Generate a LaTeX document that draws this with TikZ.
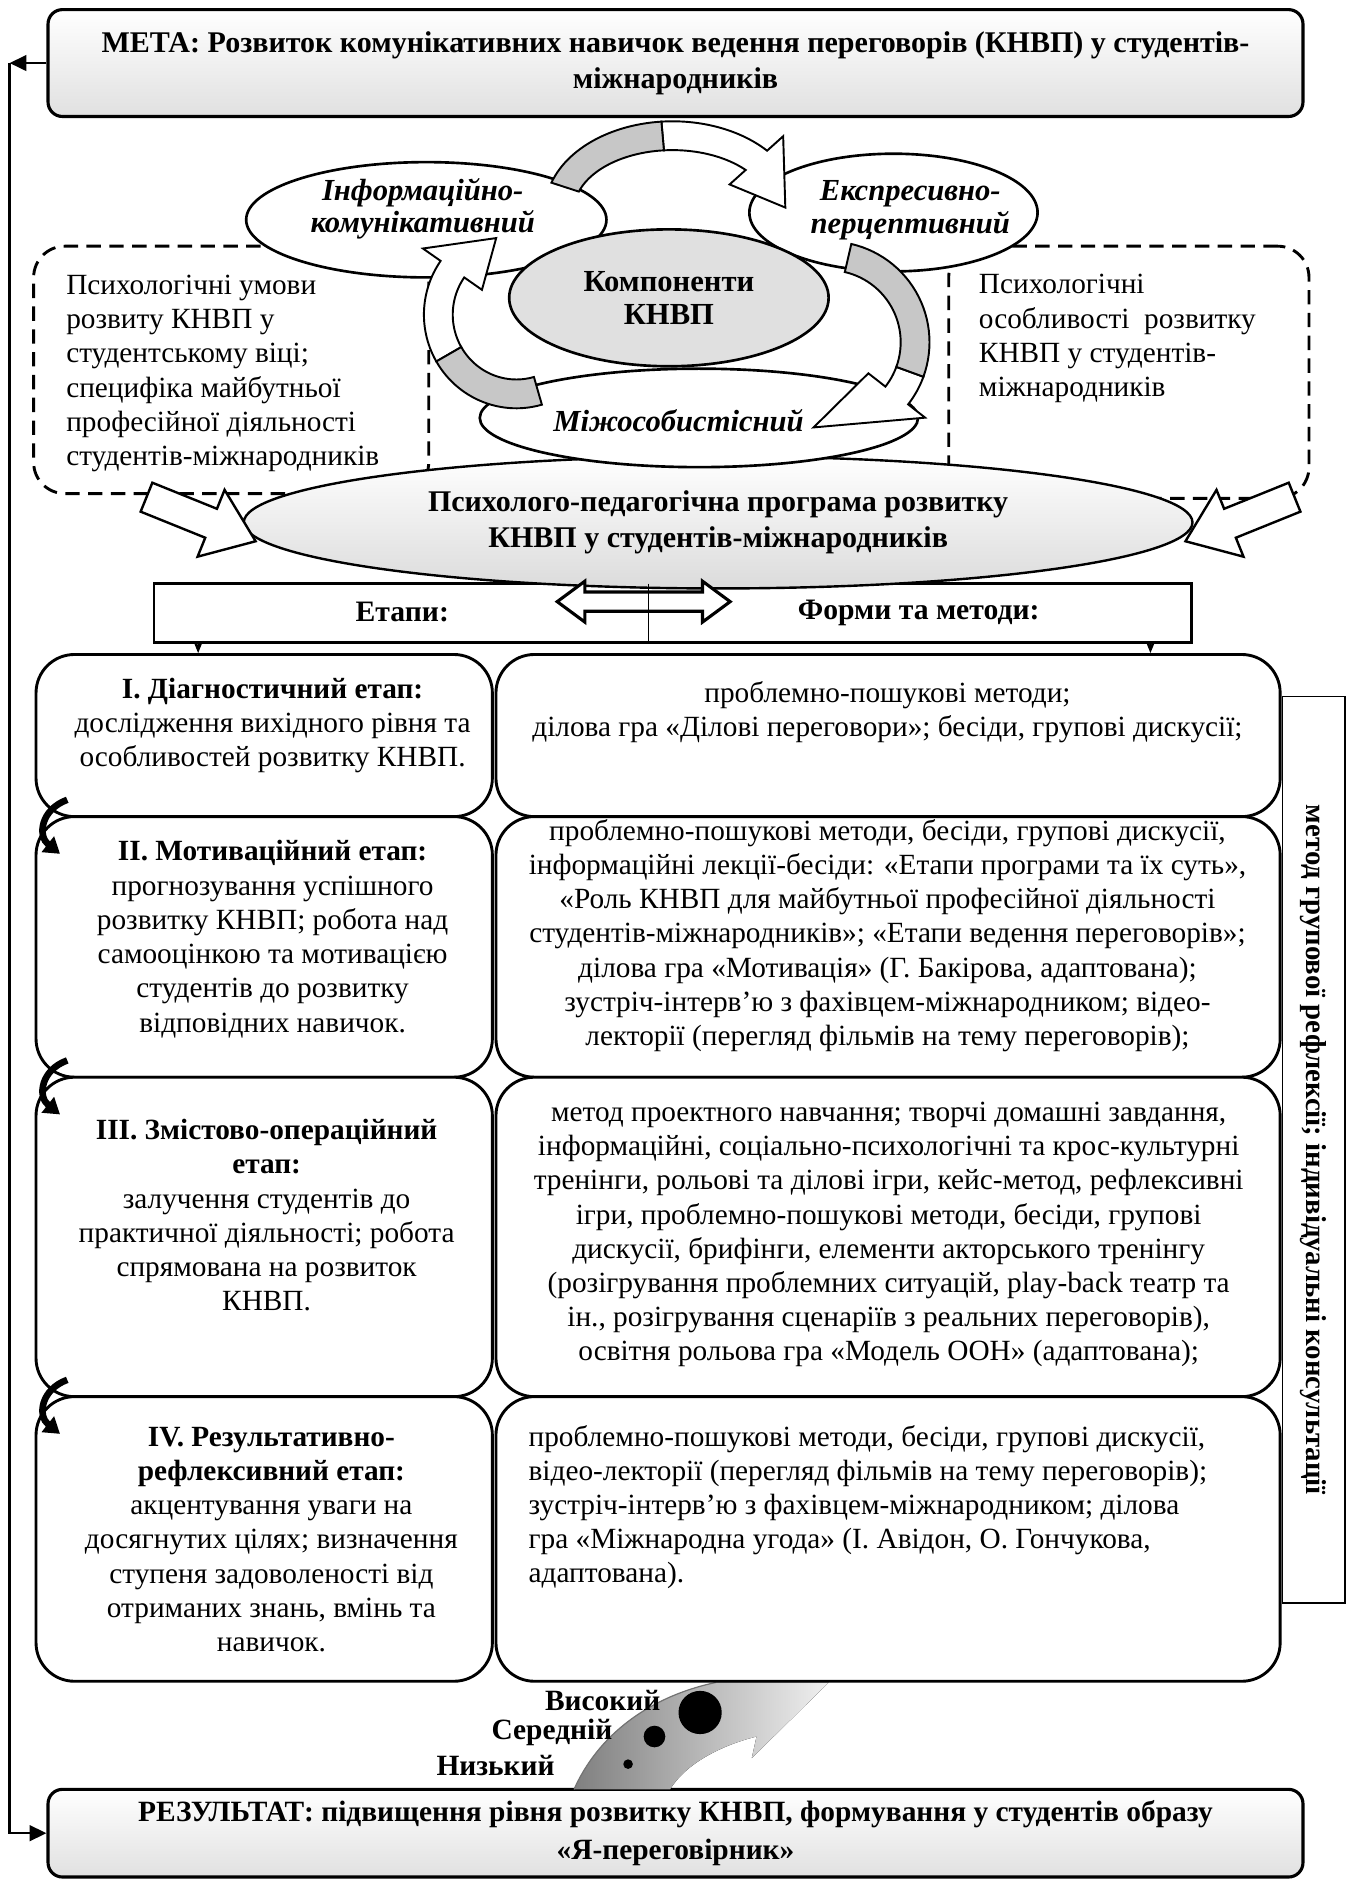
\documentclass[tikz,border=0pt]{standalone}
\usepackage{fontspec}
\setmainfont{Liberation Serif}
\usetikzlibrary{arrows.meta,positioning,shapes.geometric}

% curved arrow round the components: centre, radii, tail, end of grey part, head base, tip
\newcommand{\ringarrow}[8]{%
  \filldraw[ringline, fill=white]
    plot[domain=#6:#7, samples=30] ({#1+(#3+12)*cos(\x)},{#2+(#4+12)*sin(\x)})
    -- ({#1+(#3+30)*cos(#7)},{#2+(#4+30)*sin(#7)})
    -- ({#1+#3*cos(#8)},{#2+#4*sin(#8)})
    -- ({#1+(#3-30)*cos(#7)},{#2+(#4-30)*sin(#7)})
    -- plot[domain=#7:#6, samples=30] ({#1+(#3-12)*cos(\x)},{#2+(#4-12)*sin(\x)})
    -- cycle;
  \filldraw[ringline, fill=black!22]
    plot[domain=#5:#6, samples=30] ({#1+(#3+12)*cos(\x)},{#2+(#4+12)*sin(\x)})
    -- plot[domain=#6:#5, samples=30] ({#1+(#3-12)*cos(\x)},{#2+(#4-12)*sin(\x)})
    -- cycle;
}

\begin{document}
\begin{tikzpicture}[x=1pt, y=-1pt,
  every node/.style={inner sep=0pt},
  framebox/.style={draw, line width=2.6pt, rounded corners=12pt, top color=white, bottom color=black!12, minimum width=1045pt, align=center},
  condbox/.style={draw, line width=2.4pt, dash pattern=on 12pt off 7pt, rounded corners=26pt},
  oval/.style={ellipse, draw, line width=2.2pt, fill=white, align=center},
  ovaltext/.style={align=center, font=\fontsize{25.5}{27}\selectfont\bfseries\itshape},
  ringline/.style={line width=1.6pt},
  blockarrow/.style={draw, line width=2pt, fill=white},
  stagebox/.style={draw, line width=2.4pt, rounded corners=32pt, fill=white},
  bodytext/.style={align=center, font=\fontsize{24.4}{28.5}\selectfont},
  headtext/.style={font=\fontsize{24.7}{28}\selectfont\bfseries},
  smallarrow/.style={line width=1pt, -{Stealth[length=10pt,width=8pt]}},
  loopback/.style={line width=2pt, -{Triangle[length=14pt,width=13pt]}},
  stagehook/.style={line width=5.5pt, -{Triangle[length=13pt,width=16pt]}},
  levelname/.style={font=\fontsize{24.5}{26}\selectfont\bfseries}
]
\fill[white] (0,0) rectangle (1121,1568);
\useasboundingbox (0,0) rectangle (1121,1568);

% goal and result
\node[framebox, minimum height=89pt, font=\fontsize{25}{30}\selectfont\bfseries] (goal) at (562.5,52.5)
  {МЕТА: Розвиток комунікативних навичок ведення переговорів (КНВП) у студентів-\\міжнародників};
\node[framebox, minimum height=73pt, font=\fontsize{24.5}{31}\selectfont\bfseries] (result) at (562.5,1526.5)
  {РЕЗУЛЬТАТ: підвищення рівня розвитку КНВП, формування у студентів образу\\«Я-переговірник»};

\coordinate (looptop) at (8,52.5);
\draw[loopback] (goal.west) -- (looptop);
\draw[loopback] (looptop) |- (result.west);

% conditions
\node[condbox, minimum width=329pt, minimum height=206pt] (condleft) at (192.5,308) {};
\node[bodytext, align=left, anchor=west] (condlefttext) at (55,311)
  {Психологічні умови\\розвиту КНВП у\\студентському віці;\\специфіка майбутньої\\професійної діяльності\\студентів-міжнародників};
\node[condbox, minimum width=300pt, minimum height=210pt] (condright) at (940,310) {};
\node[bodytext, align=left, anchor=west] (condrighttext) at (815,282)
  {Психологічні\\особливості~ розвитку\\КНВП у студентів-\\міжнародників};

% programme and its two columns
\node[draw, line width=2pt, minimum width=864pt, minimum height=49pt] (stagehead) at (560,510.5) {};
\node[ellipse, draw, line width=2pt, top color=white, bottom color=black!14, minimum width=790pt, minimum height=110pt,
  align=center, font=\fontsize{25}{30}\selectfont\bfseries] (program) at (598,435)
  {Психолого-педагогічна програма розвитку\\КНВП у студентів-міжнародників};
\begin{scope}[shift={(122,414)}, rotate=-22]
  \filldraw[blockarrow] (0,-13) -- (58,-13) -- (58,-30) -- (98,0) -- (58,30) -- (58,13) -- (0,13) -- cycle;
\end{scope}
\begin{scope}[shift={(1078,414)}, rotate=202]
  \filldraw[blockarrow] (0,-13) -- (58,-13) -- (58,-30) -- (98,0) -- (58,30) -- (58,13) -- (0,13) -- cycle;
\end{scope}
\begin{scope}[shift={(536,501)}]
  \filldraw[blockarrow, line width=2.6pt] (-72,0) -- (-49,-17) -- (-49,-8) -- (49,-8) -- (49,-17) -- (72,0)
    -- (49,17) -- (49,8) -- (-49,8) -- (-49,17) -- cycle;
\end{scope}
\coordinate (divtop) at (540,486);
\coordinate (divbot) at (540,535);
\draw[line width=1.2pt] (divtop) -- (divbot);
\node[headtext] (stagelabel) at (335,510) {Етапи:};
\node[headtext] (formlabel) at (765,510) {Форми та методи:};

% components
\node[oval, minimum width=365pt, minimum height=82pt] (mizh) at (582,348) {};
\node[ovaltext] (mizhtext) at (565,350) {Міжособистісний};
\node[oval, minimum width=300pt, minimum height=96pt] (info) at (355,183) {};
\node[ovaltext] (infotext) at (352,174) {Інформаційно-\\комунікативний};
\node[oval, minimum width=240pt, minimum height=98pt] (expr) at (744,177) {};
\node[ovaltext] (exprtext) at (758,175) {Експресивно-\\перцептивний};
\node[ellipse, draw, line width=2.2pt, fill=black!12, minimum width=266pt, minimum height=114pt, align=center,
  font=\fontsize{25.5}{27}\selectfont\bfseries] (comp) at (557,248) {Компоненти\\КНВП};

\ringarrow{560}{175}{94}{62}{198}{265}{318}{358}
\ringarrow{690}{285}{72}{72}{283}{380}{398}{460}
\ringarrow{430}{262}{65}{66}{74}{150}{215}{255}

% result arrow with levels
\fill[left color=black!50, right color=black!6] (478,1490) .. controls (498,1445) and (540,1413) .. (596,1401)
  -- (690,1401) -- (626,1464) -- (630,1446) .. controls (598,1454) and (570,1470) .. (558,1490) -- cycle;
\draw[black!55, line width=1pt] (478,1490) .. controls (498,1445) and (540,1413) .. (596,1401);
\fill (583,1426) circle[radius=18];
\fill (545,1446) circle[radius=9];
\fill (523,1469) circle[radius=4];
\node[levelname, anchor=east] (high) at (550,1416) {Високий};
\node[levelname, anchor=east] (middle) at (510,1443) {Середній};
\node[levelname, anchor=east] (low) at (462,1470) {Низький};

% stages
\node[stagebox, minimum width=380pt, minimum height=135pt] (stage1) at (220,612.5) {};
\node[stagebox, minimum width=653pt, minimum height=135pt] (forms1) at (739.5,612.5) {};
\node[stagebox, minimum width=380pt, minimum height=217pt] (stage2) at (220,788.5) {};
\node[stagebox, minimum width=653pt, minimum height=217pt] (forms2) at (739.5,788.5) {};
\node[stagebox, minimum width=380pt, minimum height=266pt] (stage3) at (220,1030) {};
\node[stagebox, minimum width=653pt, minimum height=266pt] (forms3) at (739.5,1030) {};
\node[stagebox, minimum width=380pt, minimum height=237pt] (stage4) at (220,1281.5) {};
\node[stagebox, minimum width=653pt, minimum height=237pt] (forms4) at (739.5,1281.5) {};

\coordinate (lefthook) at (165,535);
\coordinate (righthook) at (958,535);
\draw[smallarrow] (lefthook) -- (lefthook |- stage1.north);
\draw[smallarrow] (righthook) -- (righthook |- forms1.north);

\node[bodytext] (stage1text) at (227,604)
  {\textbf{I. Діагностичний етап:}\\дослідження вихідного рівня та\\особливостей розвитку КНВП.};
\node[bodytext] (stage2text) at (227,782)
  {\textbf{II. Мотиваційний етап:}\\прогнозування успішного\\розвитку КНВП; робота над\\самооцінкою та мотивацією\\студентів до розвитку\\відповідних навичок.};
\node[bodytext] (stage3text) at (222,1012)
  {\textbf{III. Змістово-операційний}\\\textbf{етап:}\\залучення студентів до\\практичної діяльності; робота\\спрямована на розвиток\\КНВП.};
\node[bodytext] (stage4text) at (226,1282)
  {\textbf{IV. Результативно-}\\\textbf{рефлексивний етап:}\\акцентування уваги на\\досягнутих цілях; визначення\\ступеня задоволеності від\\отриманих знань, вмінь та\\навичок.};

\node[bodytext] (forms1text) at (739,593)
  {проблемно-пошукові методи;\\ділова гра «Ділові переговори»; бесіди, групові дискусії;};
\node[bodytext] (forms2text) at (739,779)
  {проблемно-пошукові методи, бесіди, групові дискусії,\\інформаційні лекції-бесіди: «Етапи програми та їх суть»,\\«Роль КНВП для майбутньої професійної діяльності\\студентів-міжнародників»; «Етапи ведення переговорів»;\\ділова гра «Мотивація» (Г. Бакірова, адаптована);\\зустріч-інтерв’ю з фахівцем-міжнародником; відео-\\лекторії (перегляд фільмів на тему переговорів);};
\node[bodytext] (forms3text) at (740,1028)
  {метод проектного навчання; творчі домашні завдання,\\інформаційні, соціально-психологічні та крос-культурні\\тренінги, рольові та ділові ігри, кейс-метод, рефлексивні\\ігри, проблемно-пошукові методи, бесіди, групові\\дискусії, брифінги, елементи акторського тренінгу\\(розігрування проблемних ситуацій, play-back театр та\\ін., розігрування сценаріїв з реальних переговорів),\\освітня рольова гра «Модель ООН» (адаптована);};
\node[bodytext, align=left, anchor=west] (forms4text) at (440,1255)
  {проблемно-пошукові методи, бесіди, групові дискусії,\\відео-лекторії (перегляд фільмів на тему переговорів);\\зустріч-інтерв’ю з фахівцем-міжнародником; ділова\\гра «Міжнародна угода» (І. Авідон, О. Гончукова,\\адаптована).};

\draw[stagehook] (56,666) .. controls (34,674) and (31,696) .. (50,711);
\draw[stagehook] (56,883) .. controls (34,891) and (31,913) .. (50,928);
\draw[stagehook] (56,1149) .. controls (34,1157) and (31,1179) .. (50,1194);

% reflection column
\node[draw, line width=1.4pt, rotate=-90, minimum width=755pt, minimum height=52pt,
  font=\fontsize{24}{26}\selectfont\bfseries] (reflex) at (1094,957.5)
  {метод групової рефлексії; індивідуальні консультації};
\end{tikzpicture}
\end{document}
